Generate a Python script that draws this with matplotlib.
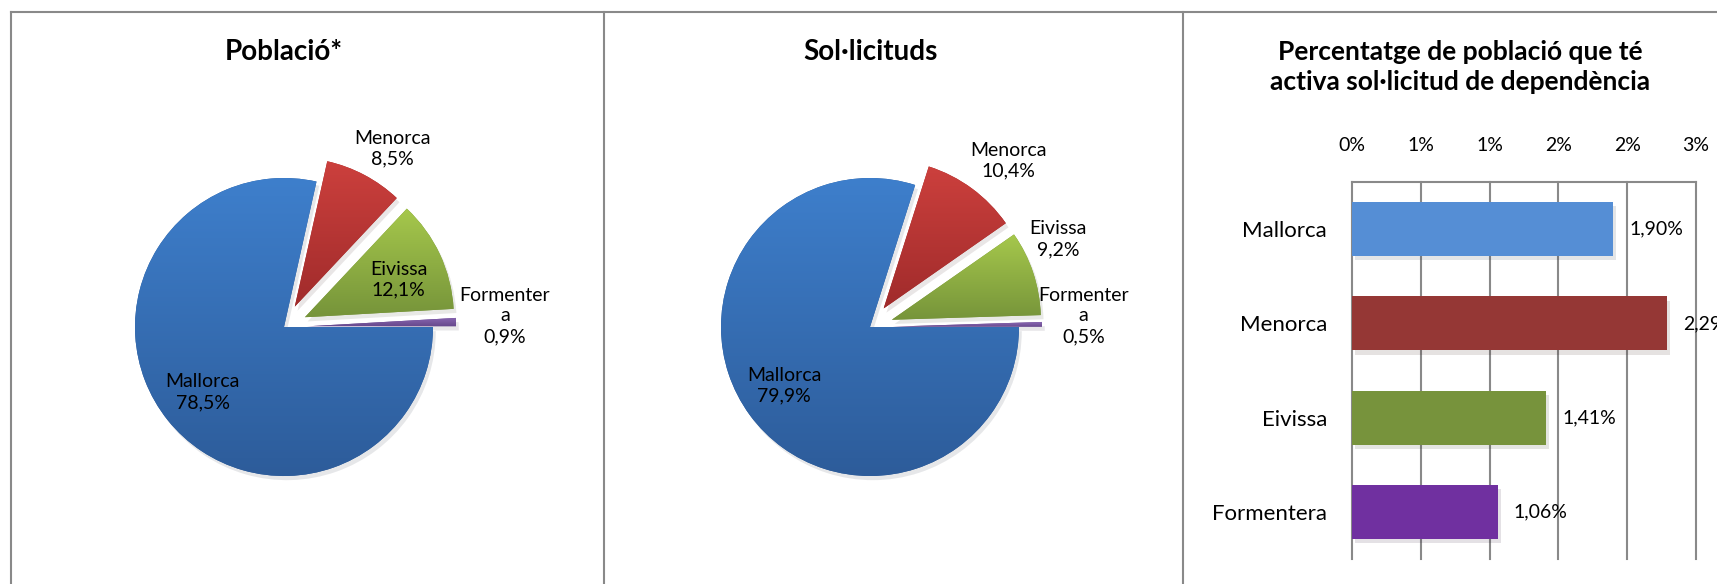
import math
import numpy as np
import matplotlib
matplotlib.use("Agg")
import matplotlib.pyplot as plt
from matplotlib.colors import LinearSegmentedColormap
from matplotlib import patheffects as pe
from matplotlib.ticker import FuncFormatter, MultipleLocator

plt.rcParams['font.family'] = ['Lato', 'DejaVu Sans']

# data
islands = ['Mallorca', 'Menorca', 'Eivissa', 'Formentera']
pie_names = ['Mallorca', 'Menorca', 'Eivissa', 'Formenter\na']
poblacio = [78.5, 8.5, 12.1, 0.9]
solicituds = [79.9, 10.4, 9.2, 0.5]
pct_actiu = [1.90, 2.29, 1.41, 1.06]

# colours
pie_top = ['#3e7fcc', '#cc403d', '#a6c84c', '#8a68b2']
pie_bottom = ['#2d5c9a', '#a02b2b', '#76943a', '#68498e']
bar_colors = ['#558ed5', '#953735', '#77933c', '#7030a0']
border = '#898989'

W, H = 1717, 584
R = 149
EXPL = 23  # pixels, pie explode is in data units
fig = plt.figure(figsize=(W / 100, H / 100), dpi=100)

# full-figure axes in pixel units, used for the pies and the panel frames
canvas = fig.add_axes([0, 0, 1, 1])


def draw_pie(vals, cx, cy, title, dists, nudges):
    wedges, _ = canvas.pie(vals, center=(cx, H - cy), radius=R, startangle=0,
                           counterclock=False, explode=[0, EXPL, EXPL, EXPL],
                           wedgeprops=dict(linewidth=0))
    for w, c0, c1, name, v, d, n in zip(wedges, pie_top, pie_bottom,
                                         pie_names, vals, dists, nudges):
        w.set_facecolor(c1)
        w.set_path_effects([pe.SimplePatchShadow(offset=(2, -3), alpha=0.1),
                            pe.Normal()])
        bb = w.get_path().get_extents()
        cmap = LinearSegmentedColormap.from_list('g', [c1, c0])
        grad = np.linspace(0, 1, 256).reshape(-1, 1)
        im = canvas.imshow(grad, extent=(bb.x0, bb.x1, bb.y0, bb.y1),
                           origin='lower', cmap=cmap, aspect='auto',
                           interpolation='bilinear', zorder=w.get_zorder() + 0.1)
        im.set_clip_path(w)
        ang = math.radians((w.theta1 + w.theta2) / 2 + n)
        x0, y0 = w.center
        canvas.text(x0 + d * R * math.cos(ang), y0 + d * R * math.sin(ang),
                    f"{name}\n{v:.1f}%".replace('.', ','), ha='center',
                    va='center', fontsize=14, linespacing=1.25, zorder=5)
    fig.text(cx / W, 1 - 52 / H, title, ha='center', va='center',
             fontsize=20, weight='bold')


draw_pie(poblacio, 284, 327, 'Població*',
         [0.70, 1.246, 0.68, 1.33], [0, -4, -3, 1.4])
draw_pie(solicituds, 870, 327, 'Sol·licituds',
         [0.70, 1.30, 1.24, 1.28], [-1.7, -3.9, 7.5, 2.3])

# panel frames
canvas.plot([11, W], [H - 12, H - 12], color=border, lw=1.5, clip_on=False)
for x in [11, 604, 1183]:
    canvas.plot([x, x], [H - 12, 0], color=border, lw=1.5, clip_on=False)

canvas.set_xlim(0, W)
canvas.set_ylim(0, H)
canvas.set_aspect('auto')
canvas.axis('off')

# bar chart
bx = fig.add_axes([1352 / W, 1 - 559 / H, (1696 - 1352) / W, (559 - 182) / H])
y = np.arange(len(islands))
bars = bx.barh(y, pct_actiu, height=0.573, color=bar_colors, zorder=3)
for b in bars:
    b.set_path_effects([pe.SimplePatchShadow(offset=(2, -3), alpha=0.12),
                        pe.Normal()])
bx.set_xlim(0, 2.5)
bx.set_ylim(3.5, -0.5)
bx.xaxis.set_major_locator(MultipleLocator(0.5))
bx.xaxis.set_major_formatter(
    FuncFormatter(lambda v, p: f"{int(math.floor(v + 0.5 + 1e-9))}%"))
bx.xaxis.tick_top()
bx.set_yticks(y, islands)
bx.tick_params(axis='x', length=0, pad=20, labelsize=14)
bx.tick_params(axis='y', length=0, pad=18, labelsize=16)
bx.grid(axis='x', color=border, lw=1.5, zorder=0)
for gl in bx.get_xgridlines():
    gl.set_clip_on(False)
for s in ['left', 'right', 'bottom']:
    bx.spines[s].set_visible(False)
bx.spines['top'].set_color(border)
bx.spines['top'].set_linewidth(1.5)
bx.set_facecolor('none')
for i, v in enumerate(pct_actiu):
    bx.annotate(f"{v:.2f}%".replace('.', ','), (v, i), xytext=(11.5, 0),
                textcoords='offset points', va='center', ha='left',
                fontsize=14, annotation_clip=False)

fig.text(1460 / W, 1 - 67 / H,
         'Percentatge de població que té\nactiva sol·licitud de dependència',
         ha='center', va='center', fontsize=19, weight='bold', linespacing=1.3)

fig.savefig('out.png', dpi=100)
